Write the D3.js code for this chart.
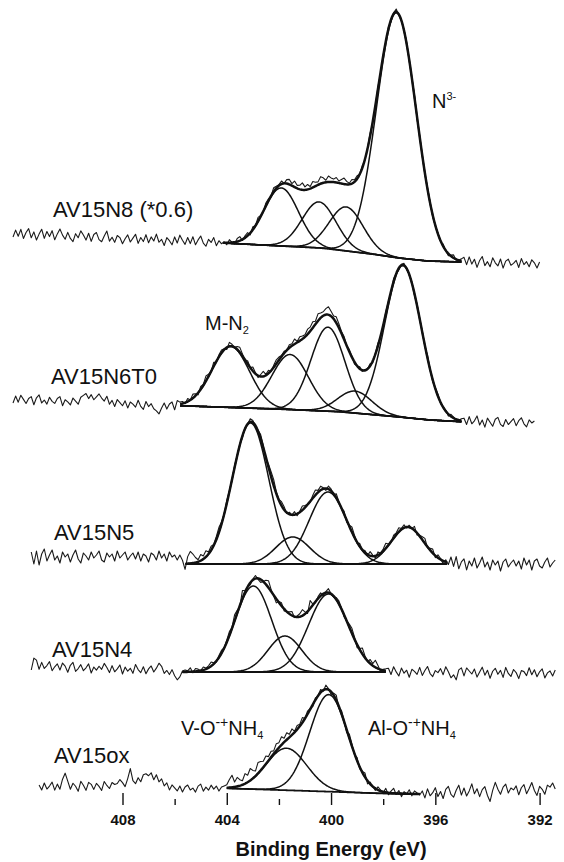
<!DOCTYPE html>
<html>
<head>
<meta charset="utf-8">
<script src="https://cdn.jsdelivr.net/npm/d3@7"></script>
<style>
  body { margin: 0; background: #fff; }
  svg { display: block; font-family: "Liberation Sans", Arial, sans-serif; }
</style>
</head>
<body>
<svg width="564" height="862"></svg>
<script>
// sample names, top to bottom
const samples = ["AV15N8 (*0.6)", "AV15N6T0", "AV15N5", "AV15N4", "AV15ox"];

// fitted components: [binding energy (eV), height, sigma (eV)]
const peaksN8 = [[401.91, 58, 0.66], [400.46, 46, 0.65], [399.42, 44, 0.65], [397.49, 245, 0.76]];
const peaksN6T0 = [[403.85, 61, 0.72], [401.57, 55, 0.70], [400.12, 84, 0.65], [399.08, 22, 0.65], [397.24, 152, 0.70]];
const peaksN5 = [[403.09, 141, 0.70], [401.47, 27, 0.65], [400.12, 72, 0.72], [397.07, 37, 0.62]];
const peaksN4 = [[402.98, 86, 0.70], [401.77, 36, 0.65], [400.10, 78, 0.76]];
const peaksOx = [[401.71, 42, 0.78], [400.09, 97, 0.73]];

// background under each trace: [binding energy, intensity]
const bgN8 = [[412.2, 571], [404.13, 562], [401.9, 559], [400.4, 557], [399.4, 554], [398.3, 550.5], [397.4, 547], [396.3, 544], [395.0, 543], [392.0, 541]];
const bgN6T0 = [[412.2, 405], [405.79, 399.3], [403.8, 397.5], [401.6, 395.5], [399.7, 393.3], [397.5, 388.3], [396.2, 385], [395.0, 383.3], [392.2, 382]];
const bgN5 = [[411.5, 248], [405.9, 248], [405.58, 241], [395.55, 241], [391.4, 241]];
const bgN4 = [[411.5, 138], [405.7, 133], [397.9, 133], [391.4, 131]];
const bgOx = [[411.2, 18], [404.0, 16.7], [400.0, 13.3], [398.2, 11.7], [396.6, 11], [391.4, 14]];

// fit window [from, to] in eV
const fitN8 = [404.13, 395.0];
const fitN6T0 = [405.79, 395.0];
const fitN5 = [405.58, 395.55];
const fitN4 = [405.7, 397.9];
const fitOx = [404.0, 396.6];

// first energy of each raw trace, then 0.1 eV steps
const startE = [412.2, 412.2, 411.5, 411.5, 411.2];

// raw trace minus fit
const noiseN8 = [
  -3,4,-2,5,-4,2,6,-3,3,-5, 1,6,-3,4,-1,5,-4,2,7,1, -3,4,-2,-5,3,-1,6,2,-3,4, -4,3,5,-2,-4,2,7,-3,1,-4,
  3,1,-5,0,4,-3,1,5,-4,2, -2,5,-3,3,-1,6,-2,1,-5,3, 0,-4,4,-2,6,1,-3,4,-2,5, -3,2,6,-1,-4,3,0,5,-3,2, -1,
  1,-2,3,0,-2,3,4,-1,2,3, -2,3,0,4,1,-1,3,2,0,4, 2,1,3,0,4,5,2,6,3,4, 7,3,5,2,6,4,3,7,5,2,
  6,4,3,5,2,4,6,3,1,4, 2,3,0,2,-1,1,3,-2,0,2, -1,1,0,2,-2,1,3,-1,0,1, 2,-1,0,3,-2,1,0,-1,2,1,
  -2,0,1,-1,2,0,-2,1,3,-1, 0,2,
  4,-3,5,-2,3,-5,2,6,-3,1, -4,5,0,-3,4,-5,2,4,-2,0, 3,-4,5,-1,2,-3,4,1,-4,2];
const noiseN6T0 = [
  -3,4,-2,5,1,-3,2,4,-4,3, 6,-2,1,-3,4,0,-2,3,5,-4, 2,0,-3,4,1,-2,5,7,9,4, 8,3,6,9,5,2,7,-1,3,-3,
  4,1,-2,3,-4,2,0,-3,4,-2, -5,3,-2,1,-4,-6,-9,-3,2,-4, 1,3,-5,4,2,
  2,-1,3,0,4,2,-2,3,1,5, 2,0,4,-1,2,3,1,-2,4,2, 0,3,5,2,-1,3,0,4,1,-2, 2,5,1,3,-1,2,4,3,1,2,
  0,3,2,5,1,4,3,2,5,4, 6,3,7,5,4,6,8,5,3,6, 4,2,3,0,2,1,-2,0,2,-1, 1,0,2,-2,1,3,-1,0,2,1,
  -1,3,0,-2,1,2,-1,0,1,-2, 2,0,1,-1,3,0,-2,1,2,-1, 0,1,-2,2,1,-1,0,2,
  3,-3,5,-2,1,6,-3,2,-5,4, 0,-4,3,5,-2,-4,3,-2,1,4, -3,2,5,-1,-4,3,0,2];
const noiseN5 = [
  5,-7,6,-8,3,8,-4,2,7,-3, 1,-6,5,0,3,-5,2,7,-2,-6, 4,1,-3,5,-1,2,6,-3,-5,4, 0,3,-4,6,-1,2,5,-3,1,4,
  -2,5,-4,3,1,-5,4,2,-3,6, -1,3,-4,5,0,2,-3,4,1,-6,
  7,12,9,5,2,6,3,6,2,4, 1,3,5,2,0,3,1,-1,2,0, 1,-2,1,0,3,2,-1,1,4,2, -2,3,5,6,2,1,4,3,-1,2,
  0,3,-2,1,4,2,0,-1,3,5, 2,4,1,-2,3,2,-1,4,1,0, 3,-2,1,5,2,-1,3,0,2,-1, 4,1,-2,3,0,2,5,1,-1,3,
  2,4,1,3,-1,2,0,4,-2,1, 3,5,-1,2,4,-2,3,1,-3,2,
  -2,6,-3,7,-5,2,5,-6,3,-2, 6,-4,1,7,-3,2,-6,4,-1,3, -7,2,5,-3,1,4,-2,3,-5,6, -1,4,-6,3,5,-2,-4,2,6,-3, 1,4];
const noiseN4 = [
  -3,9,7,-2,5,-1,2,6,-3,1, 4,-2,5,2,-4,3,6,-3,0,4, -2,1,5,-4,2,-1,3,0,6,2, -3,4,-2,1,5,-4,3,-1,2,-3,
  6,1,-2,4,-3,2,5,-1,3,8, 5,-2,1,-3,2,-4,-8,-5,1,
  2,1,4,-1,3,2,0,3,1,2, 4,1,-1,2,3,0,2,4,1,6, 3,-1,8,2,0,-2,1,3,-1,-3, 0,4,7,2,-1,-4,1,3,-2,0,
  2,4,-1,1,3,6,2,-2,8,1, -1,2,3,-2,1,4,0,-1,2,3, 1,-2,0,3,5,2,-3,1,6,2, -1,4,2,7,3,-2,1,2,
  3,-3,5,0,-4,4,-1,2,-5,3, 1,-2,5,-3,2,6,-1,-4,2,0, 4,-2,6,1,-5,-2,-7,3,5,-3, 5,2,-1,4,-4,1,6,-2,3,-5,
  2,5,-1,3,-4,6,0,-3,4,1, -5,3,2,-2,6,-1,4,-3,2,5, -4,1,3,-2,4];
const noiseOx = [
  2,-3,4,-2,1,5,-3,3,-2,8, 14,6,-2,4,1,-4,6,2,-3,5, 3,-2,4,1,-3,6,2,-1,5,3, 4,8,5,1,9,19,7,4,10,6,
  13,14,12,15,8,13,6,9,2,5, -2,3,0,-3,2,-4,1,3,-2,0, -4,2,4,-3,1,-2,3,-1,2,-3, 1,2,
  3,8,12,5,9,6,4,10,7,12, 8,5,11,9,6,8,4,6,3,7, 5,8,4,7,3,6,1,4,2,5, 0,3,1,-2,2,0,3,-1,4,1,
  -3,2,5,-2,3,1,-3,4,2,-1, 3,-2,1,4,-3,2,0,-2,3,1, -1,4,-2,2,5,-1,3,-3,2,0, 4,-2,3,1,-1,
  3,-4,5,-2,1,6,-3,2,-5,4, 7,-1,-4,3,8,-2,5,-3,2,9, -1,4,-4,3,6,-3,-9,2,10,3, -2,5,8,-1,4,2,6,-3,4,7,
  -2,3,9,1,-4,5,2,-3,6,4, 8,2];

// axis ticks
const xTicks = [408, 404, 400, 396, 392];
const xMinor = [406, 402, 398];

const spectra = [
  { name: samples[0], peaks: peaksN8, bg: bgN8, fit: fitN8, start: startE[0], noise: noiseN8 },
  { name: samples[1], peaks: peaksN6T0, bg: bgN6T0, fit: fitN6T0, start: startE[1], noise: noiseN6T0 },
  { name: samples[2], peaks: peaksN5, bg: bgN5, fit: fitN5, start: startE[2], noise: noiseN5 },
  { name: samples[3], peaks: peaksN4, bg: bgN4, fit: fitN4, start: startE[3], noise: noiseN4 },
  { name: samples[4], peaks: peaksOx, bg: bgOx, fit: fitOx, start: startE[4], noise: noiseOx },
];

// label placement (px)
const labelPos = [[53, 217], [51, 384], [54, 540], [52, 657], [54, 763]];

const svg = d3.select("svg");
const step = 0.1;

const x = d3.scaleLinear().domain([408, 392]).range([122.5, 539.6]);
const y = d3.scaleLinear().domain([0, 800]).range([805, 5]);

const line = d3.line().x((d) => x(d[0])).y((d) => y(d[1]));

const gauss = (E, [c, h, s]) => h * Math.exp(-((E - c) ** 2) / (2 * s * s));

spectra.forEach((sp, k) => {
  const bg = d3.scaleLinear().domain(sp.bg.map((d) => d[0])).range(sp.bg.map((d) => d[1]));
  const fitE = d3.range(sp.fit[0], sp.fit[1], -0.03).concat([sp.fit[1]]);
  const g = svg.append("g");

  // raw trace
  const raw = sp.noise.map((n, i) => {
    const E = sp.start - i * step;
    return [E, bg(E) + d3.sum(sp.peaks, (p) => gauss(E, p)) + n];
  });
  g.append("path")
    .attr("d", line(raw))
    .attr("fill", "none")
    .attr("stroke", "#1a1a1a")
    .attr("stroke-width", 1.1)
    .attr("stroke-linejoin", "round");

  // components
  sp.peaks.forEach((p) => {
    g.append("path")
      .attr("d", line(fitE.map((E) => [E, bg(E) + gauss(E, p)])))
      .attr("fill", "none")
      .attr("stroke", "#111")
      .attr("stroke-width", 1.5);
  });

  // background
  g.append("path")
    .attr("d", line(fitE.map((E) => [E, bg(E)])))
    .attr("fill", "none")
    .attr("stroke", "#111")
    .attr("stroke-width", 1.8);

  // envelope
  g.append("path")
    .attr("d", line(fitE.map((E) => [E, bg(E) + d3.sum(sp.peaks, (p) => gauss(E, p))])))
    .attr("fill", "none")
    .attr("stroke", "#111")
    .attr("stroke-width", 2.5)
    .attr("stroke-linejoin", "round");

  svg.append("text")
    .attr("x", labelPos[k][0])
    .attr("y", labelPos[k][1])
    .attr("font-size", 22)
    .attr("fill", "#111")
    .text(sp.name);
});

// peak annotations
const note = (px, py, parts) => {
  const t = svg.append("text").attr("x", px).attr("y", py).attr("font-size", 20).attr("fill", "#111");
  parts.forEach(([s, shift, size]) => {
    t.append("tspan")
      .attr("font-size", size || 20)
      .attr("baseline-shift", shift || 0)
      .text(s);
  });
};
note(432, 108, [["N"], ["3-", 8, 11]]);
note(205, 330, [["M-N"], ["2", -4, 11]]);
note(181, 735, [["V-O"], ["-+", 8, 14], ["NH"], ["4", -4, 11]]);
note(368, 735, [["Al-O"], ["-+", 8, 14], ["NH"], ["4", -4, 11]]);

// x axis, ticks pointing up
svg.append("g").attr("transform", `translate(0,${y(0)})`)
  .call(d3.axisBottom(x).tickValues(xTicks).tickSize(-12).tickPadding(9).tickFormat(d3.format("d")))
  .call((g) => g.select(".domain").remove())
  .call((g) => g.selectAll(".tick line").attr("stroke", "#111").attr("stroke-width", 1.4))
  .call((g) => g.selectAll(".tick text")
    .attr("fill", "#111")
    .attr("font-size", 15)
    .attr("font-weight", "bold")
    .attr("font-family", "Liberation Sans, Arial, sans-serif"));
svg.append("g").attr("transform", `translate(0,${y(0)})`)
  .call(d3.axisBottom(x).tickValues(xMinor).tickSize(-6).tickFormat(""))
  .call((g) => g.select(".domain").remove())
  .call((g) => g.selectAll(".tick line").attr("stroke", "#111").attr("stroke-width", 1.4));

svg.append("text")
  .attr("x", x(400))
  .attr("y", 856)
  .attr("text-anchor", "middle")
  .attr("font-size", 20)
  .attr("font-weight", "bold")
  .attr("fill", "#111")
  .text("Binding Energy (eV)");
</script>
</body>
</html>
